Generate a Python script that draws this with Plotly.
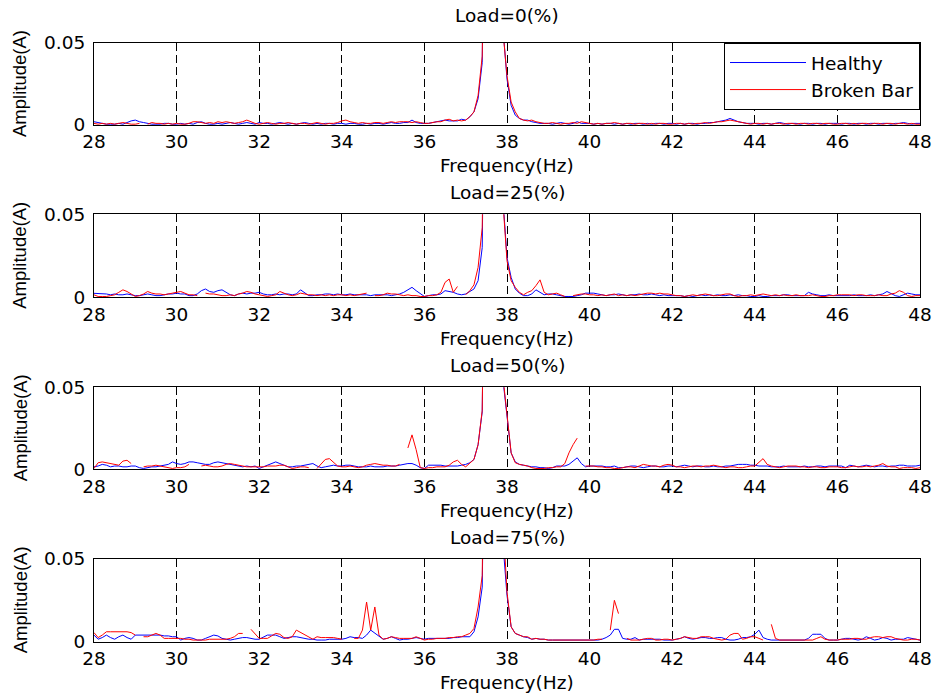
import plotly.graph_objects as go

# ---------------- data (amplitudes in mA, 0.1 Hz bins from 28.0 to 48.0 Hz) ----------------
freq_start_hz = 28.0
freq_step_hz = 0.1
n_bins = 201
freq_hz = [round(freq_start_hz + freq_step_hz * k, 1) for k in range(n_bins)]

x_tick_vals = [28, 30, 32, 34, 36, 38, 40, 42, 44, 46, 48]
y_tick_vals = [0, 0.05]
y_tick_text = ["0", "0.05"]

load_titles = ["Load=0(%)", "Load=25(%)", "Load=50(%)", "Load=75(%)"]
series_names = ["Healthy", "Broken Bar"]

healthy_0 = [
    2, 1.5, 1, 0.5, 0.5, 0.5, 1, 0.5, 1.5, 2.5, 3, 2, 1.5, 1, 0.5, 0.5, 0.5, 1, 1, 0.5,
    0.5, 1, 0.5, 1, 0.5, 1.5, 2, 1, 0.5, 0.5, 1, 0.5, 1, 1.5, 1, 0.5, 1, 1.5, 1, 0.5,
    1.5, 1, 1, 0.5, 1, 1.5, 1, 0.5, 1, 0.5, 1, 1.5, 1, 0.5, 1, 0.5, 1, 1, 0.5, 1,
    1, 0.5, 1, 1, 0.5, 0.5, 1, 0.5, 1, 1, 0.5, 1, 1.5, 1, 1, 1.5, 1.5, 3, 1.5, 1,
    1, 1, 1.5, 2, 2.5, 3, 2.5, 2.5, 2.5, 3.5, 3, 5, 8, 16, 38, 250, 400, 350, 180, 60,
    28, 12, 6, 4, 3, 3, 2, 1.5, 1, 1, 1, 0.5, 1, 1.5, 1, 0.5, 1, 2, 1, 1,
    1, 0.5, 1, 0.5, 1, 1, 0.5, 1, 0.5, 1, 0.5, 1, 1, 0.5, 1, 0.5, 1, 1, 0.5, 1,
    1, 0.5, 1, 0.5, 1, 1, 0.5, 1, 1, 1.5, 1.5, 2, 2.5, 3, 4, 3, 2, 1.5, 1, 1,
    1, 0.5, 1, 1, 0.5, 1, 1.5, 1, 0.5, 1, 1, 0.5, 1, 1, 0.5, 1, 1, 0.5, 1, 1,
    1, 0.5, 1, 1, 0.5, 1, 1, 0.5, 1, 1, 0.5, 1, 1, 0.5, 1, 1, 1.5, 1, 0.5, 1,
    1,
]
broken_0 = [
    1, 0.5, 1, 0.5, 1, 0.5, 1, 1.5, 1, 0.5, 0.5, 1, None, 0.5, 1.5, 1, 1, 0.5, 1, 0.5,
    1, 0.5, 0.5, 1, 2, 2, 1.5, 1, 1.5, 1, 2, 1.5, 2, 1.5, 1, 1.5, 2, 3, 2, 1,
    0.5, 1, 1.5, 1, 0.5, 1, 1, 1.5, 1, 0.5, 1, 1, 0.5, 1, 1.5, 1, 0.5, 1, 1, 1.5,
    2.5, 3, 2, 1.5, 1, 1.5, 1, 1, 1.5, 1.5, 1, 1.5, 2, 1.5, 2, 2, 2, 1.5, 2, 1.5,
    1, 1, 1.5, 2, 2, 3, 3.5, 2.5, 3, 2.5, 3, 5, 8, 18, 42, 260, 420, 360, 190, 58,
    30, 14, 8, 4, 3, 2.5, 3, 2, 1.5, 1, 1, 1.5, 1, 0.5, 1, 1, 1.5, 1, 2, 1.5,
    1, 0.5, 1, 0.5, 1, 1, 1.5, 1, 0.5, 1, 1, 0.5, 1, 1, 0.5, 1, 0.5, 1, 1, 0.5,
    0.5, 1, 1, 0.5, 1, 0.5, 1, 1, 1.5, 1, 1.5, 2, 2, 2.5, 3, 2.5, 2, 1.5, 1, 0.5,
    1, 1, 0.5, 1, 0.5, 1, 1, 0.5, 1, 1, 0.5, 1, 1, 0.5, 1, 1, 0.5, 1, 1, 0.5,
    0.5, 1, 1, 0.5, 1, 0.5, 1, 1, 0.5, 1, 1, 0.5, 1, 1, 0.5, 1, 1, 0.5, 1, 0.5,
    0.5,
]

healthy_25 = [
    2.4, 2.4, 2.4, 2, 1.5, 2, 1.5, 1.5, 2, 1.5, 1, 1, 1.5, 2, 1.5, 1, 1, 1.5, 2, 2,
    2.5, 2, 2, 1, 1, 2, 4, 5, 3.5, 3, 4, 4.5, 3, 1.5, 1, 2, 2.5, 2, 2.5, 2.5,
    3, 2, 1.5, 1.5, 2, 1.5, 2, 2, 1.5, 2, 4.5, 3, 1, 1, 1.5, 1.5, 2, 2, 1.5, 2,
    1.5, 1.5, 2, 1.5, 1.5, 1.5, 1.5, 1, 1.5, 1.5, 1.5, 1.5, 1, 1.5, 2, 3, 4.5, 6, 4, 2,
    0.5, 1, 1.5, 1.5, 2, 4, 3.5, 3, 2, 1.5, 2, 3.5, 5, 10, 30, 250, 420, 360, 190, 60,
    24, 12, 5, 2.5, 1, 1, 2, 4.5, 3, 1.5, 2, 2, 1.5, 1, 0.5, 0.5, 0.5, 1, 1.5, 2.5,
    2.5, 2.5, 2, 1.5, 1, 1.5, 1.5, 2, 1.5, 1, 1.5, 1.5, 2, 1.5, 1.5, 2, 1.5, 1, 1.5, 1,
    1, 1, 1, 0.5, 1, 0.5, 1, 1.5, 1, 1.5, 1, 1.5, 1, 1, 1.5, 1, 1.5, 1, 1, 0.5,
    0.5, 1, 0.5, 0.5, 1, 1, 1, 1.5, 1.5, 1, 1, 1, 1, 3, 2, 1.5, 1, 1, 1.5, 1,
    1, 1, 1, 1, 1.5, 1, 1, 1, 1.5, 1, 1.5, 2, 3.5, 2, 1, 0.5, 1.5, 2.5, 2, 1.5,
    1.5,
]
broken_25 = [
    1.5, 0.5, 0.5, 0.5, 1, 1.5, 3, 4.5, 3.5, 2, 0.5, 1, 2, 3.5, 2.5, 2, 2, 1.5, 2, 2.5,
    3, 3.5, 2.5, 1.5, 1.5, 1, None, 2.5, 2, 2, 1.5, 1, 1, 1.5, 1, 2, 2.5, 3.5, 3, 2,
    1.5, 1, 0.5, 1, 1.5, 3.5, 2.5, 1.5, 1, 1.5, 2.5, 2, 1.5, 1.5, 1, 1.5, 1, 1.5, 1, 1.5,
    1.5, 1, 1.5, 1, 1.5, 2, 2.5, None, 1, 1, 1.5, 2.5, 2, 2, 1.5, 1, 1.5, 1, 1, 0.5,
    0.5, 1, 1, 1.5, 3, 9, 11, 3, 6.5, None, 1.5, 4, 7.5, 18, 42, 260, 430, 370, 200, 58,
    22, 10, 6, 3, 1.5, 3, 4, 7, 10.5, 3, 1.5, 2, 2.5, 1.5, 0.5, None, 1, 1.5, 2, 2,
    1.5, 1.5, 1, 1.5, 1, 1.5, 2, 1, 1.5, 1, 1.5, 1, 1.5, 2, 2.5, 2.5, 2, 2.5, 2, 2,
    1.5, 1, 1, 0.5, 1, 1.5, 1, 1.5, 2, 1.5, 1, 1, 1.5, 2, 2, 1, 0.5, 1, 1, 1.5,
    1, 1.5, 2, 1.5, 1, 1.5, 1, 1.5, 1, 1, 1.5, 1, 1, 1, 1.5, 1, 0.5, 0.5, 1, 1,
    1.5, 1.5, 1.5, 1.5, 1, 1.5, 1.5, 1, 1, 1, 1.5, 1, 1, 2, 2.5, 4, 3, 1, 0.5, 1,
    1,
]

healthy_50 = [
    1.5, 2, 3, 2.5, 1.5, 2, 2, 1.5, 1.5, 2, 2, 1, 0.5, 1, 1.5, 1.5, 2, 2.5, 3, 4.5,
    3.5, 3, 3.5, 4.5, 4.5, 4, 3.5, 3, 3, 4, 4.5, 4, 3.5, 3, 2.5, 2, 1.5, 2, 1.5, 2,
    0.5, 1.5, 2.5, 3.5, 4.5, 3.5, 2.5, 1.5, 1.5, 2, 2, 2.5, 3, 3.5, 2, 1, 1.5, 2, 2.5, 2,
    2, 2.5, 2.5, 2, 1.5, 1.5, 1.5, 2, 1.5, 1.5, 1.5, 2, 2, 2, 2.5, 3, 3.5, 3.5, 2.5, 1,
    0.5, 2.5, 2.5, 2.5, 2.5, 2, 2, 2, 2, 2.5, 3, 4, 6, 15, 35, 240, 400, 340, 180, 55,
    32, 10, 4.5, 3, 2.5, 2, 1.5, 1.5, 1, 1, 0.5, 1, 2, 2, 2, 3, 5, 7, 3.5, 1.5,
    2, 2, 2, 2, 1.5, 1.5, 2, 1, 1, 1.5, 2, 2, 1.5, 1, 1.5, 2, 2, 1.5, 1.5, 2,
    2, 1.5, 2, 2.5, 2, 1.5, 2, 2, 1.5, 1.5, 2, 1.5, 1.5, 2, 2, 2.5, 3, 3, 3, 2.5,
    2.5, 2, 2, 2, 1.5, 1.5, 1.5, 2, 1.5, 1.5, 1.5, 1.5, 2, 1.5, 1.5, 2, 2, 1.5, 2, 2,
    2, 2, 1, 2.5, 2, 1.5, 2, 2.5, 2, 1.5, 2, 2, 1.5, 2, 2, 2.5, 2.5, 2, 2, 2,
    2.5,
]
broken_50 = [
    0.5, 4, 4.5, 4, 3.5, 3, 2.5, 5, 5.5, 3.5, None, None, 1.5, 2, 2, 2.5, 2, 1.5, 1, 0.5,
    1, 1, 1.5, 3, None, None, 2, 2.5, 2, 1.5, 1.5, 2, 3, 3.5, 3, 2.5, 2, 1.5, 1.5, 1.5,
    1.5, 1.5, 2, 2, 2, 2.5, 2.5, 1.5, 0.5, 1, 1.5, 1.5, 1, None, 0.5, 3, 6, 6.5, 4.5, 2,
    1.5, 1.5, 2, 1.5, 1, 1.5, 2.5, 3, 3.5, 3, 2.5, 2.5, 2, 2, 3, None, 13, 21, 12, 1,
    0.5, 1, 1, 1.5, 1.5, 1.5, 2.5, 4.5, 5.5, 3, 1.5, 4, 6, 15, 36, 250, 420, 360, 190, 57,
    32, 10, 4, 3, 2.5, 2, 1, 0.5, 0.5, 0.5, 1, 1, 1.5, 1.5, 3.5, 10, 15, 19, None, 2,
    2, 2, 1.5, 1.5, 1, 1, 0.5, 0.5, 1, 1.5, 1.5, 1, 2, 3, 2.5, 2, 2, 1.5, 2.5, 3,
    2.5, 1.5, 1.5, 1, 1.5, 2, 2, 1.5, 2, 2, 2.5, 2, 1.5, 1, 1.5, 1.5, 1, 1, 1.5, 2,
    2, 4, 6.5, 3, 2, 1.5, 1, 1.5, 2, 2, 2, 1.5, 1.5, 1, 1.5, 1.5, 1, 1, 1.5, 1.5,
    1.5, 1, 1, 1.5, 2, 1.5, 1.5, 2, 1.5, 2, 2.5, 3.5, 2, 1.5, 1.5, 0.5, 1, 1, 1, 0.5,
    1,
]

healthy_75 = [
    4, 1.5, 2.5, 4, 2.5, 1.5, 3, 4, 2.5, 1.5, 4, 4, 4, 4, 4, 4, 4, 3.5, 3.5, 3,
    3, 1, 2, 2.5, 2, 1, 1, 2, 3, 4, 3.5, 2, 1.5, 1, 1.5, 2, 2.5, 2.5, 2, 1.5,
    1.5, 3, 4, 4, 4, 3, 2, 2.5, 3, 3, 2.5, 2, 1.5, 1.5, 1, 1, 1, 1.5, 1.5, 1.5,
    1.5, 2, 3, 2.5, 2.5, 2, 4, 7, 5, 3.5, 1.5, 2, 3, 2, 1, 1.5, 1.5, 2, 2.5, 2,
    1.5, 2, 2, 2, 2, 2, 2, 2.5, 2.5, 3, 3, 3, 6, 15, 33, 240, 400, 340, 180, 60,
    28, 9, 5, 4, 3, 2.5, 1.5, 2, 1.5, 1.5, 1, 1, 1, 1, 1, 1, 1, 1, 1, 1,
    1, 1, 1, 1.5, 2.5, 4, 7.5, 7.5, 2, 1.5, 1.5, 2.5, 1, 1.5, 1.5, 1.5, 1.5, 1.5, 1, 1,
    1, 1.5, 2, 3, 2, 1.5, 2, 2.5, 2.5, 2, 2, 2.5, 2.5, 1.5, 1, 1, 1.5, 2.5, 2.5, 3,
    4.5, 7, 2.5, 1.5, 1, 1, 1, 1, 1, 1, 1, 1, 1, 2, 4.5, 4.5, 4.5, 2, 1, 1,
    1, 1.5, 2, 2, 1.5, 1, 1.5, 3, 2, 1, 1.5, 2.5, 2, 1, 1.5, 1.5, 1.5, 2.5, 2, 1.5,
    1,
]
broken_75 = [
    5.5, 2.5, 4, 6, 6, 6, 6, 6, 6, 5.5, 4, None, 3, 3, 4, 5, 4, 2, 2, 2,
    2, 2, 1.5, 1.5, 1, 1, 1, 1, 1.5, 1.5, 1.5, 1.5, 1.5, 2, 3, 5, 5, None, 7.5, 4.5,
    2, 2, 2, 3.5, 5, 4.5, 2.5, 2, 3, 7, 5.5, 4, 2.5, 1.5, 3, 2.5, 2.5, 2.5, 2.5, 2,
    1.5, None, None, 2, 2, 7, 24, 7, 21, 4, 1.5, 2, 3, 2.5, 2, 2, 2, 2, 3, 2,
    1, 1.5, 1.5, 2, 2, 2, 2.5, 2.5, 3, 3, 4, 5, 8, 21, 40, 260, 430, 370, 200, 75,
    30, 9, 5, 4, 3, 3, 1.5, 2, 1.5, 1.5, 1, 1, 1, 1, 1, 1, 1, 1, 1, 1,
    1, 1, 1.5, 1.5, None, 7, 25, 17, None, 2, 1, 1, 1, 1.5, 2, 2, 1, 1, 1.5, 1.5,
    1, 1.5, 2, 3, 2.5, 2, 2, 3, 3, 3, 2, 1.5, 1, 1.5, 4, 5, 5, 1.5, 2, 3,
    3, 2, 1, None, 10.5, 2, 1, 1, 1, 1, 1, 1, 1, 1, 1, 2, 3, 1.5, 1, 1,
    1, 1.5, 1.5, 1.5, 2, 2, 1.5, 1.5, 2.5, 3, 3, 2.5, 3, 3, 2, 1.5, 1, 1, 1.5, 1.5,
    1,
]

healthy_series = [healthy_0, healthy_25, healthy_50, healthy_75]
broken_series = [broken_0, broken_25, broken_50, broken_75]
for s in healthy_series + broken_series:
    assert len(s) == n_bins, len(s)


def to_amps(values_ma):
    return [None if v is None else v / 1000.0 for v in values_ma]


# ---------------- layout constants ----------------
W, H = 935, 698
M_L, M_R = 94, 15
FONT = "DejaVu Sans"
FS = 18.5
row_top_px = [43, 214.3, 387.3, 559]
row_bot_px = [125, 297.3, 469.3, 641.7]
title_gap_px = [27, 22, 22, 22]


def py(px):
    return 1 - px / H


fig = go.Figure()
annotations = []
layout_axes = {}
for i in range(4):
    sfx = "" if i == 0 else str(i + 1)
    fig.add_trace(go.Scatter(
        x=freq_hz, y=to_amps(healthy_series[i]), mode="lines",
        line=dict(color="#0000ff", width=1), name=series_names[0],
        showlegend=(i == 0), legendgroup="h", xaxis="x" + sfx, yaxis="y" + sfx,
        connectgaps=False))
    fig.add_trace(go.Scatter(
        x=freq_hz, y=to_amps(broken_series[i]), mode="lines",
        line=dict(color="#ff0000", width=1), name=series_names[1],
        showlegend=(i == 0), legendgroup="b", xaxis="x" + sfx, yaxis="y" + sfx,
        connectgaps=False))
    layout_axes["xaxis" + sfx] = dict(
        domain=[0, 1], range=[28, 48], anchor="y" + sfx,
        tickmode="array", tickvals=x_tick_vals, ticks="",
        showgrid=True, gridcolor="black", gridwidth=1, griddash="8px,4px",
        zeroline=False, showline=True, linecolor="black", linewidth=1, mirror=True,
        tickfont=dict(family=FONT, size=FS, color="black"), automargin=False,
        ticklabelstandoff=0)
    layout_axes["yaxis" + sfx] = dict(
        domain=[py(row_bot_px[i]), py(row_top_px[i])], range=[0, 0.05], anchor="x" + sfx,
        tickmode="array", tickvals=y_tick_vals, ticktext=y_tick_text, ticks="",
        showgrid=False, zeroline=False, showline=True, linecolor="black", linewidth=1,
        mirror=True, tickfont=dict(family=FONT, size=FS, color="black"), automargin=False,
        ticklabelstandoff=4)
    annotations.append(dict(
        text=load_titles[i], xref="paper", yref="paper", x=0.5,
        y=py(row_top_px[i] - title_gap_px[i]),
        xanchor="center", yanchor="middle", showarrow=False,
        font=dict(family=FONT, size=FS, color="black")))
    annotations.append(dict(
        text="Frequency(Hz)", xref="paper", yref="paper", x=0.5, y=py(row_bot_px[i] + 41),
        xanchor="center", yanchor="middle", showarrow=False,
        font=dict(family=FONT, size=FS, color="black")))
    annotations.append(dict(
        text="Amplitude(A)", xref="paper", yref="paper",
        x=(20 - M_L) / (W - M_L - M_R), y=py((row_top_px[i] + row_bot_px[i]) / 2),
        xanchor="center", yanchor="middle", textangle=-90, showarrow=False,
        font=dict(family="Liberation Sans", size=18.5, color="black")))

fig.update_layout(
    template="none",
    width=W, height=H,
    margin=dict(l=M_L, r=M_R, t=0, b=0, autoexpand=False),
    paper_bgcolor="white", plot_bgcolor="white",
    font=dict(family=FONT, size=FS, color="black"),
    showlegend=True,
    hovermode=False,
    legend=dict(x=1, y=py(row_top_px[0]), xanchor="right", yanchor="top",
                bgcolor="white", bordercolor="black", borderwidth=1,
                font=dict(family=FONT, size=FS, color="black"),
                itemwidth=76, tracegroupgap=0),
    annotations=annotations,
    **layout_axes,
)

fig.write_html(
    "out.html",
    config={"displayModeBar": False},
    post_script="document.body.style.margin='0px';document.body.style.overflow='hidden';",
)
